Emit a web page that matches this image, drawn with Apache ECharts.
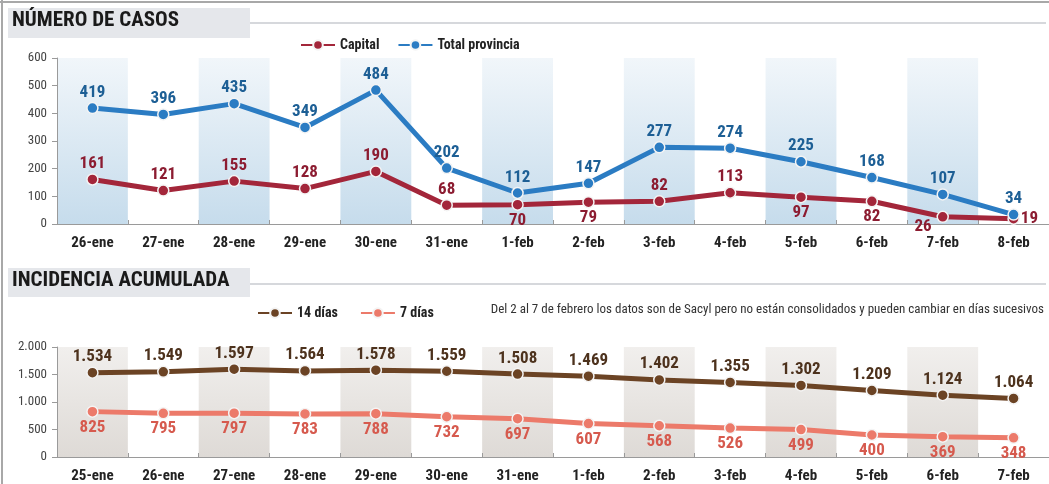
<!DOCTYPE html>
<html>
<head>
<meta charset="utf-8">
<script src="https://cdn.jsdelivr.net/npm/echarts@6/dist/echarts.min.js"></script>
<style>
  html, body { margin: 0; padding: 0; background: #fff; }
  #chart { width: 1049px; height: 484px; }
</style>
</head>
<body>
<div id="chart"></div>
<script>
// datos
var casosDias = ['26-ene', '27-ene', '28-ene', '29-ene', '30-ene', '31-ene', '1-feb',
  '2-feb', '3-feb', '4-feb', '5-feb', '6-feb', '7-feb', '8-feb'];
var capital = [161, 121, 155, 128, 190, 68, 70, 79, 82, 113, 97, 82, 26, 19];
var totalProvincia = [419, 396, 435, 349, 484, 202, 112, 147, 277, 274, 225, 168, 107, 34];
var casosTicks = [0, 100, 200, 300, 400, 500, 600];

var incDias = ['25-ene', '26-ene', '27-ene', '28-ene', '29-ene', '30-ene', '31-ene',
  '1-feb', '2-feb', '3-feb', '4-feb', '5-feb', '6-feb', '7-feb'];
var catorceDias = [1534, 1549, 1597, 1564, 1578, 1559, 1508, 1469, 1402, 1355, 1302, 1209, 1124, 1064];
var sieteDias = [825, 795, 797, 783, 788, 732, 697, 607, 568, 526, 499, 400, 369, 348];
var incTicks = [0, 500, 1000, 1500, 2000];

var nota = 'Del 2 al 7 de febrero los datos son de Sacyl pero no están consolidados y pueden cambiar en días sucesivos';

// posicion de etiquetas de Capital (estilo)
var capitalPos = ['top', 'top', 'top', 'top', 'top', 'top', 'bottom',
  'bottom', 'top', 'top', 'bottom', 'bottom', 'insideTopRight', 'right'];

var FONT = "'Liberation Sans Narrow', 'Roboto Condensed', 'DejaVu Sans Condensed', sans-serif";

function miles(v) {
  return String(v).replace(/\B(?=(\d{3})+(?!\d))/g, '.');
}

var myChart = echarts.init(document.getElementById('chart'));

var blueBand = new echarts.graphic.LinearGradient(0, 0, 0, 1, [
  { offset: 0, color: '#f1f6fa' },
  { offset: 1, color: '#c6dcec' }
]);
var greyBand = new echarts.graphic.LinearGradient(0, 0, 0, 1, [
  { offset: 0, color: '#f1efed' },
  { offset: 1, color: '#dedad6' }
]);

function xAxisCfg(cats, gridIndex, bandColor) {
  return {
    type: 'category',
    gridIndex: gridIndex,
    data: cats,
    boundaryGap: true,
    axisLine: { lineStyle: { color: '#9a9a9a', width: 1 } },
    axisTick: { show: true, inside: true, length: 4, lineStyle: { color: '#9a9a9a' } },
    axisLabel: {
      color: '#222', fontFamily: FONT, fontWeight: 'bold', fontSize: 15, margin: 12
    },
    splitArea: { show: true, areaStyle: { color: [bandColor, 'rgba(255,255,255,0)'] } },
    splitLine: { show: false }
  };
}

function yAxisCfg(ticks, gridIndex, fmt) {
  return {
    type: 'value',
    gridIndex: gridIndex,
    min: ticks[0],
    max: ticks[ticks.length - 1],
    interval: ticks[1] - ticks[0],
    axisLine: { show: true, lineStyle: { color: '#9a9a9a' } },
    axisTick: { show: true, length: 5, lineStyle: { color: '#9a9a9a' } },
    axisLabel: { color: '#444', fontFamily: FONT, fontSize: 13, margin: 10, formatter: fmt },
    splitLine: { show: false }
  };
}

function lineSeries(name, data, xi, color, labelColor, posFn) {
  return {
    name: name,
    type: 'line',
    xAxisIndex: xi,
    yAxisIndex: xi,
    symbol: 'circle',
    symbolSize: 11,
    z: name === 'Capital' || name === '7 días' ? 3 : 4,
    lineStyle: { color: color, width: 5 },
    itemStyle: { color: color, borderColor: '#f4f4f4', borderWidth: 1.5 },
    data: data.map(function each(v, i) {
      var pos = posFn(i);
      return {
        value: v,
        label: pos === 'insideTopRight' ? { position: [-22, 8] } : { position: pos }
      };
    }),
    label: {
      show: true,
      color: labelColor,
      fontFamily: FONT,
      fontWeight: 'bold',
      fontSize: 17,
      distance: 1,
      formatter: function fmt(p) { return miles(p.value); }
    }
  };
}

var option = {
  animation: false,
  backgroundColor: '#fff',
  grid: [
    { left: 57, right: 0, top: 58, height: 166 },
    { left: 57, right: 0, top: 347, height: 110 }
  ],
  legend: [
    {
      data: ['Capital', 'Total provincia'],
      left: 295, top: 33, itemWidth: 34, itemHeight: 12, itemGap: 18,
      textStyle: { fontFamily: FONT, fontWeight: 'bold', fontSize: 14, color: '#222' }
    },
    {
      data: ['14 días', '7 días'],
      left: 252, top: 301, itemWidth: 34, itemHeight: 12, itemGap: 22,
      textStyle: { fontFamily: FONT, fontWeight: 'bold', fontSize: 14, color: '#222' }
    }
  ],
  xAxis: [xAxisCfg(casosDias, 0, blueBand), xAxisCfg(incDias, 1, greyBand)],
  yAxis: [
    yAxisCfg(casosTicks, 0, function f(v) { return String(v); }),
    yAxisCfg(incTicks, 1, function f(v) { return miles(v); })
  ],
  series: [
    lineSeries('Capital', capital, 0, '#a3263a', '#8c1c31', function p(i) { return capitalPos[i]; }),
    lineSeries('Total provincia', totalProvincia, 0, '#2b7cc3', '#1d5f95', function p() { return 'top'; }),
    lineSeries('14 días', catorceDias, 1, '#6b4324', '#4d321d', function p() { return 'top'; }),
    lineSeries('7 días', sieteDias, 1, '#ec7a6a', '#d65a4e', function p() { return 'bottom'; })
  ],
  graphic: [
    { type: 'line', shape: { x1: 2, y1: 0, x2: 2, y2: 484 }, style: { stroke: '#a8a8a8', lineWidth: 2 } },
    { type: 'line', shape: { x1: 0, y1: 2, x2: 1049, y2: 2 }, style: { stroke: '#a8a8a8', lineWidth: 2 } },
    { type: 'line', shape: { x1: 250, y1: 23, x2: 1046, y2: 23 }, style: { stroke: '#d6d8dc', lineWidth: 2 } },
    { type: 'rect', shape: { x: 8, y: 8, width: 242, height: 30 }, style: { fill: '#e5e7eb' } },
    {
      type: 'text', left: 12, top: 10,
      style: { text: 'NÚMERO DE CASOS', font: 'bold 21px ' + FONT, fill: '#1a1a1a' }
    },
    { type: 'line', shape: { x1: 250, y1: 284, x2: 1046, y2: 284 }, style: { stroke: '#d6d8dc', lineWidth: 2 } },
    { type: 'rect', shape: { x: 8, y: 268, width: 242, height: 29 }, style: { fill: '#e5e7eb' } },
    {
      type: 'text', left: 12, top: 270,
      style: { text: 'INCIDENCIA ACUMULADA', font: 'bold 21px ' + FONT, fill: '#1a1a1a' }
    },
    {
      type: 'text', right: 5, top: 303,
      style: { text: nota, font: '13px ' + FONT, fill: '#333' }
    }
  ]
};

myChart.setOption(option);
window.onresize = myChart.resize;
</script>
</body>
</html>
